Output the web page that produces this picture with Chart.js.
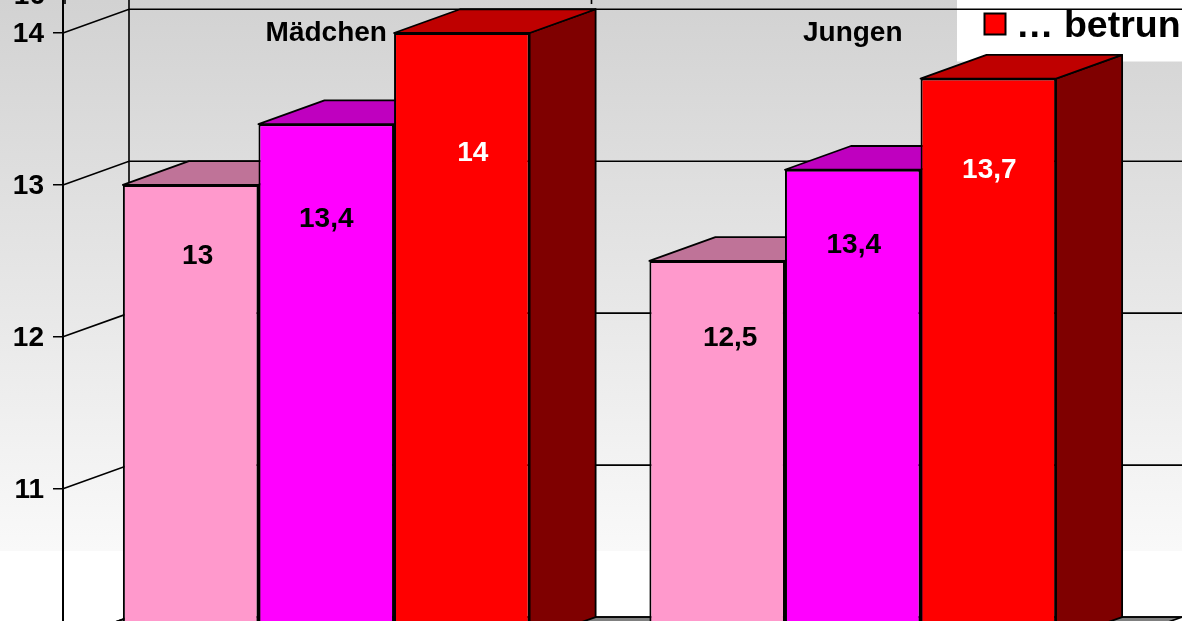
<!DOCTYPE html>
<html><head><meta charset="utf-8">
<style>html,body{margin:0;padding:0;background:#fff;overflow:hidden}#w{width:1182px;height:621px;position:relative}canvas{display:block}</style>
<script src="https://cdn.jsdelivr.net/npm/chart.js@4/dist/chart.umd.min.js"></script>
</head><body><div id="w"><canvas id="c" width="1182" height="621"></canvas></div>
<script>
const categories = ["Mädchen", "Jungen"];
const seriesLight = [13, 12.5];
const seriesMid = [13.4, 13.1];
const seriesDark = [14, 13.7];
const labelsLight = ["13", "12,5"];
const labelsMid = ["13,4", "13,4"];
const labelsDark = ["14", "13,7"];
const yTickValues = [14, 13, 12, 11];
const legendText = "… betrun";
const topCutLabel = "16";

// layout and style
const DX = 66, DY = 23.7, FONT = 'bold 28px "Liberation Sans", Arial, sans-serif';
const labelShift = [[[7,71],[13,77]],[[0,95],[1,76]],[[11,120],[1,92]]];
const faceCols = [['#bf7398','#7f4c66'],['#bf00bf','#7f007f'],['#bf0000','#7f0000']];

const wall = {
  id: 'wall',
  beforeDraw(chart) {
    const {ctx, scales:{x, y}} = chart;
    const L = y.right, W = 1182, H = 621;
    ctx.save();
    const g = ctx.createLinearGradient(0,0,0,551);
    g.addColorStop(0,'#d2d2d2'); g.addColorStop(1,'#f9f9f9');
    ctx.fillStyle = g; ctx.fillRect(0,0,W,551);
    ctx.fillStyle = '#ffffff'; ctx.fillRect(957,0,W-957,61.5);
    const f = y.getPixelForValue(10);
    ctx.fillStyle = '#808080';
    ctx.beginPath(); ctx.moveTo(L,f); ctx.lineTo(L+DX,f-DY); ctx.lineTo(x.right+DX,f-DY); ctx.lineTo(x.right,f); ctx.closePath(); ctx.fill();
    ctx.strokeStyle = '#000'; ctx.lineWidth = 1.6; ctx.stroke();
    ctx.lineWidth = 1.6;
    ctx.beginPath();
    ctx.moveTo(L+DX,0); ctx.lineTo(L+DX,f-DY);
    [14,13,12,11,10].forEach(v=>{
      const p = y.getPixelForValue(v);
      ctx.moveTo(L,p); ctx.lineTo(L+DX,p-DY); ctx.lineTo(x.right+DX,p-DY);
    });
    ctx.moveTo(L+2,0); ctx.lineTo(L+2,4);
    ctx.moveTo(x.getPixelForValue(0.5)+2,0); ctx.lineTo(x.getPixelForValue(0.5)+2,4);
    ctx.stroke();
    ctx.restore();
  },
  beforeDatasetsDraw(chart) {
    const {ctx, scales:{x, y}} = chart;
    const f = y.getPixelForValue(10);
    ctx.save();
    ctx.strokeStyle = '#000';
    ctx.fillStyle = '#ff0000'; ctx.fillRect(984.5,13.5,21,21);
    ctx.lineWidth = 2; ctx.strokeRect(984.5,13.5,21,21);
    ctx.fillStyle = '#000'; ctx.font = 'bold 37.5px "Liberation Sans", Arial, sans-serif';
    ctx.textAlign='left'; ctx.textBaseline='alphabetic';
    ctx.fillText(legendText,1016,37);
    ctx.font = FONT; ctx.textAlign='center'; ctx.textBaseline='middle';
    chart.data.labels.forEach((t,i)=>ctx.fillText(t,x.getPixelForValue(i),33));
    ctx.textAlign='right';
    ctx.fillText(topCutLabel,45,-4);
    ctx.lineWidth = 1.8; ctx.lineJoin='round';
    chart.data.datasets.forEach((d,di)=>{
      chart.getDatasetMeta(di).data.forEach(b=>{
        const l=b.x-b.width/2, r=b.x+b.width/2, t=b.y;
        ctx.fillStyle=faceCols[di][1];
        ctx.beginPath(); ctx.moveTo(r,t); ctx.lineTo(r+DX,t-DY); ctx.lineTo(r+DX,f-DY); ctx.lineTo(r,f); ctx.closePath(); ctx.fill(); ctx.stroke();
        ctx.fillStyle=faceCols[di][0];
        ctx.beginPath(); ctx.moveTo(l,t); ctx.lineTo(l+DX,t-DY); ctx.lineTo(r+DX,t-DY); ctx.lineTo(r,t); ctx.closePath(); ctx.fill(); ctx.stroke();
      });
    });
    ctx.restore();
  },
  afterDatasetsDraw(chart) {
    const {ctx} = chart;
    ctx.save();
    ctx.font = FONT; ctx.textAlign='center'; ctx.textBaseline='middle';
    chart.data.datasets.forEach((d,di)=>{
      chart.getDatasetMeta(di).data.forEach((b,i)=>{
        ctx.fillStyle = di===2 ? '#ffffff' : '#000000';
        const s = labelShift[di][i];
        ctx.fillText(d.valueText[i], b.x+s[0], b.y+s[1]);
      });
    });
    ctx.restore();
  }
};

const ds = (label,data,valueText,color)=>({label,data,valueText,backgroundColor:color,borderColor:'#000',borderWidth:2,borderSkipped:false,base:9,barPercentage:1,categoryPercentage:0.7725});

new Chart(document.getElementById('c'),{
  type:'bar',
  data:{labels:categories,datasets:[
    ds('a',seriesLight,labelsLight,'#ff99cc'),
    ds('b',seriesMid,labelsMid,'#ff00ff'),
    ds('c',seriesDark,labelsDark,'#ff0000')
  ]},
  options:{
    responsive:false,animation:false,
    layout:{padding:{left:0,right:66,top:0,bottom:0}},
    plugins:{legend:{display:false},title:{display:false},tooltip:{enabled:false}},
    scales:{
      x:{display:false},
      y:{
        min:10.13,max:14.217,
        afterBuildTicks(s){s.ticks=yTickValues.map(v=>({value:v}));},
        afterFit(s){s.width=63;s.paddingTop=0;s.paddingBottom=0;},
        grid:{drawOnChartArea:false,drawTicks:true,tickLength:10,color:'#000',lineWidth:1.5},
        border:{display:true,color:'#000',width:2},
        ticks:{color:'#000',font:{family:'"Liberation Sans", Arial, sans-serif',size:28,weight:'bold'},padding:9,labelOffset:1,autoSkip:false,maxRotation:0,callback:v=>String(v)}
      }
    }
  },
  plugins:[wall]
});
</script>
</body></html>
